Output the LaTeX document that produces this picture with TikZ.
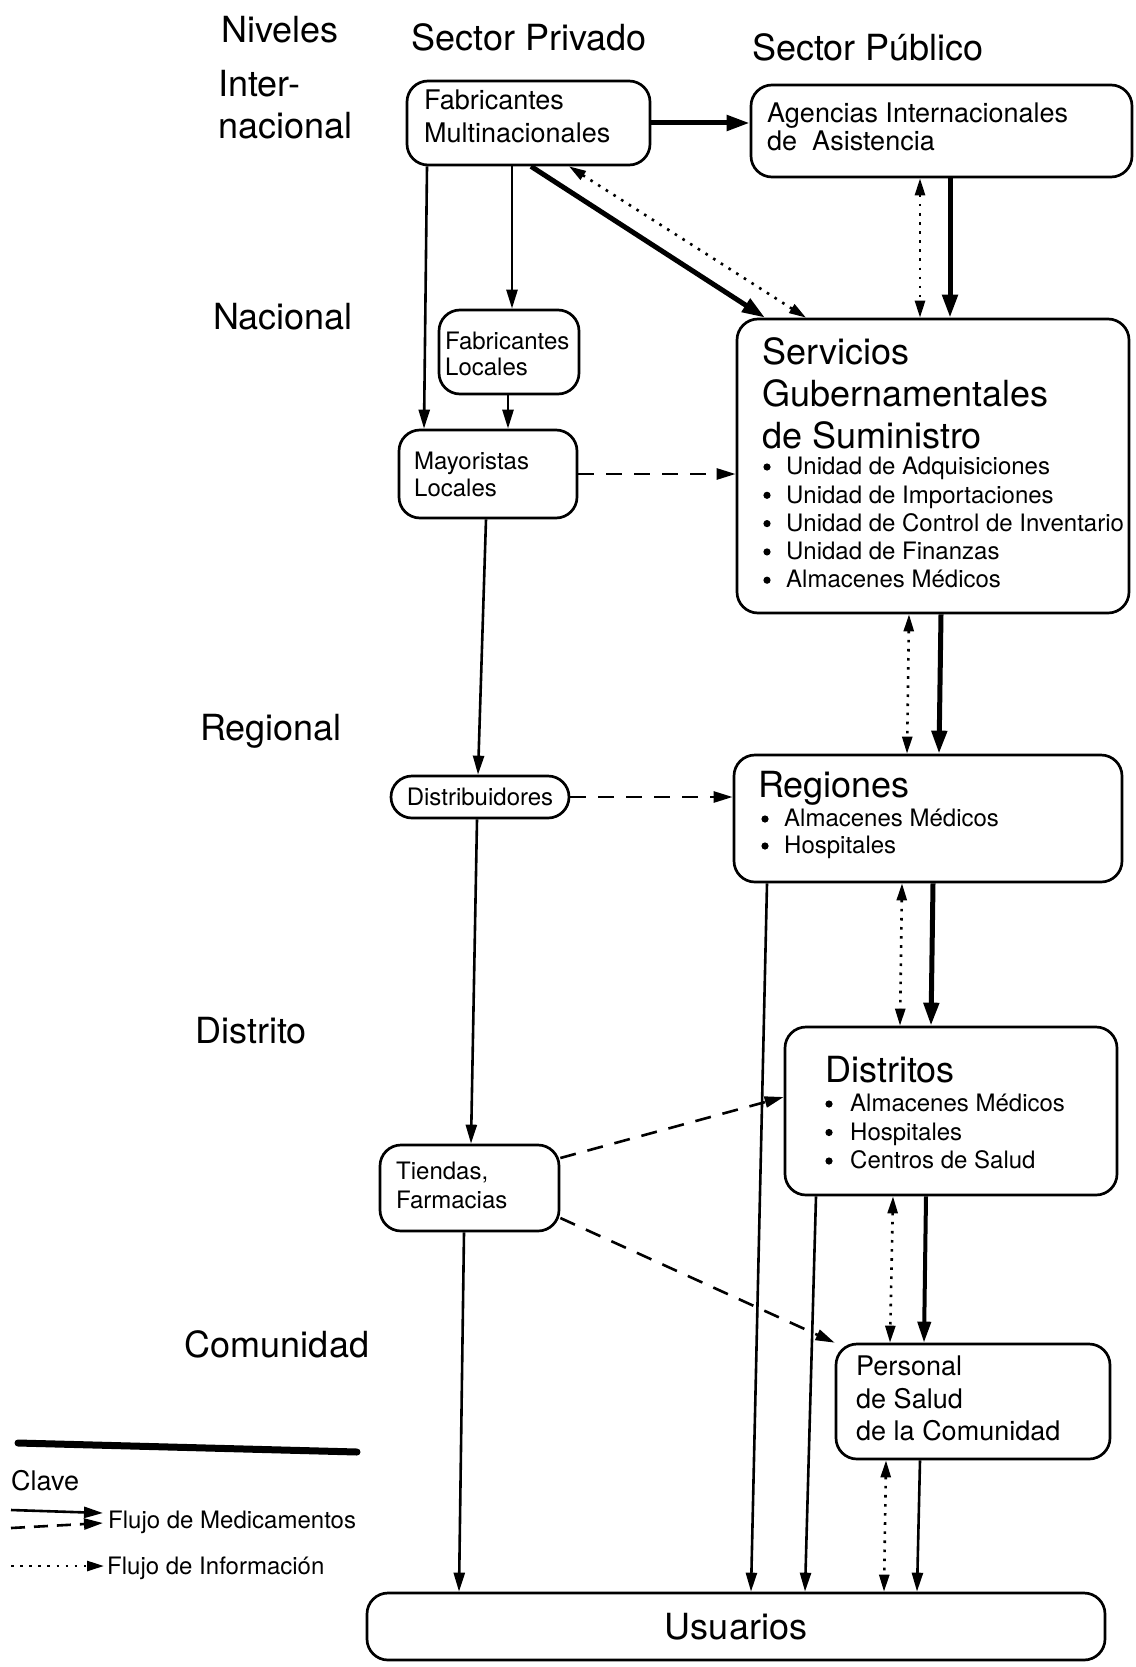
\documentclass[tikz,border=0pt]{standalone}
\usepackage{fontspec}
\setmainfont{TeX Gyre Heros}
\usetikzlibrary{arrows.meta}
\newcommand\myfs[2]{\fontsize{#1}{#2}\selectfont}
\begin{document}
\begin{tikzpicture}[x=1pt,y=-1pt,
  box/.style={draw, line width=2.7pt, rounded corners=21pt, inner sep=0pt},
  txt/.style={anchor=north west, inner sep=0pt, align=left},
  lvl/.style={inner sep=0pt, font=\myfs{36}{42}},
  dot/.style={fill=black},
  thin/.style={line width=2.6pt, -{Triangle[length=19pt,width=11pt]}},
  heavy/.style={line width=5pt, -{Triangle[length=23pt,width=15pt]}},
  medium/.style={line width=4pt, -{Triangle[length=21pt,width=13pt]}},
  dashflow/.style={line width=2.6pt, dash pattern=on 16pt off 12pt, -{Triangle[length=19pt,width=11pt]}},
  info/.style={line width=2.6pt, dash pattern=on 2.6pt off 6.5pt,
    {Triangle[length=17pt,width=10pt]}-{Triangle[length=17pt,width=10pt]}},
  infoone/.style={line width=2.6pt, dash pattern=on 2.6pt off 6.5pt, -{Triangle[length=17pt,width=10pt]}}
]
\useasboundingbox (0,0) rectangle (1135,1667);
\fill[white] (0,0) rectangle (1135,1667);

% headings
\node[lvl] (hniv) at (280,30) {Niveles};
\node[lvl] (hpriv) at (529,37) {Sector Privado};
\node[lvl] (hpub) at (868,47) {Sector Público};
\node[lvl, anchor=north west, align=left] (linter) at (218,70) {Inter-\\nacional};
\node[lvl] (lnac) at (283,317) {Nacional};
\node[lvl] (lreg) at (271,731) {Regional};
\node[lvl] (ldis) at (251,1031) {Distrito};
\node[lvl] (lcom) at (277,1344) {Comunidad};

% boxes
\node[box, minimum width=243pt, minimum height=84pt] (fm) at (528.5,123) {};
\node[box, minimum width=381pt, minimum height=92pt] (ag) at (941.5,131) {};
\node[box, minimum width=140pt, minimum height=84pt] (fl) at (509,352) {};
\node[box, minimum width=178pt, minimum height=88pt] (ml) at (488,474) {};
\node[box, minimum width=392pt, minimum height=294pt] (sv) at (933,466) {};
\node[box, minimum width=178pt, minimum height=42pt, font=\myfs{24}{28}] (di) at (480,797) {Distribuidores};
\node[box, minimum width=388pt, minimum height=127pt] (rg) at (928,818.5) {};
\node[box, minimum width=332pt, minimum height=168pt] (dt) at (951,1111) {};
\node[box, minimum width=179pt, minimum height=86pt] (tf) at (469.5,1188) {};
\node[box, minimum width=274pt, minimum height=115pt] (ps) at (973,1401.5) {};
\node[box, minimum width=738pt, minimum height=67pt, font=\myfs{36}{42}] (us) at (736,1626.5) {Usuarios};

% box texts
\node[txt, font=\myfs{27}{33}] (fmT) at (424,90) {Fabricantes\\Multinacionales};
\node[txt, font=\myfs{27}{28}] (agT) at (767,103) {Agencias Internacionales\\de\ \ Asistencia};
\node[txt, font=\myfs{24}{26}] (flT) at (445,332) {Fabricantes\\Locales};
\node[txt, font=\myfs{24}{27}] (mlT) at (414,452) {Mayoristas\\Locales};
\node[txt, font=\myfs{24}{29}] (tfT) at (396,1162) {Tiendas,\\Farmacias};
\node[txt, font=\myfs{27}{32.5}] (psT) at (856,1356) {Personal\\de Salud\\de la Comunidad};

\node[txt, font=\myfs{36}{42}] (svT) at (762,337) {Servicios\\Gubernamentales\\de Suministro};
\node[txt, font=\myfs{24}{28.3}] (svL) at (786,457) {%
Unidad de Adquisiciones\\
Unidad de Importaciones\\
Unidad de Control de Inventario\\
Unidad de Finanzas\\
Almacenes Médicos};
\foreach \yy in {467,495.3,523.6,551.9,580.2} \fill[dot] (767,\yy) circle (3.6pt);

\node[txt, font=\myfs{36}{42}] (rgT) at (758,771) {Regiones};
\node[txt, font=\myfs{24}{27}] (rgL) at (784,809) {%
Almacenes Médicos\\
Hospitales};
\foreach \yy in {819,846} \fill[dot] (765,\yy) circle (3.6pt);

\node[txt, font=\myfs{36}{42}] (dtT) at (825,1056) {Distritos};
\node[txt, font=\myfs{24}{28.5}] (dtL) at (850,1094) {%
Almacenes Médicos\\
Hospitales\\
Centros de Salud};
\foreach \yy in {1104,1132.5,1161} \fill[dot] (829,\yy) circle (3.6pt);

% connectors
\draw[heavy] (fm.east) -- (ag.west |- fm.east);
\draw[thin] (fm.south -| 512,0) -- (fl.north -| 512,0);
\draw[thin] (fm.south -| 427,0) -- (ml.north -| 424,0);
\draw[thin] (fl.south -| 508,0) -- (ml.north -| 508,0);
\draw[heavy] (fm.south -| 531,0) -- (sv.north -| 765,0);
\draw[info] (fm.south -| 569,0) -- (sv.north -| 806,0);
\draw[info] (ag.south -| 920,0) -- (sv.north -| 920,0);
\draw[heavy] (ag.south -| 950,0) -- (sv.north -| 950,0);
\draw[dashflow] (ml.east) -- (sv.west |- ml.east);
\draw[thin] (ml.south -| 486,0) -- (di.north -| 478,0);
\draw[info] (sv.south -| 909,0) -- (rg.north -| 907,0);
\draw[heavy] (sv.south -| 941,0) -- (rg.north -| 939,0);
\draw[dashflow] (di.east) -- (rg.west |- di.east);
\draw[thin] (di.south -| 477,0) -- (tf.north -| 471,0);
\draw[thin] (rg.south -| 767,0) -- (us.north -| 751,0);
\draw[info] (rg.south -| 902,0) -- (dt.north -| 900,0);
\draw[heavy] (rg.south -| 933,0) -- (dt.north -| 931,0);
\draw[dashflow] (tf.east |- 0,1158) -- (dt.west |- 0,1097);
\draw[dashflow] (tf.east |- 0,1218) -- (ps.north west);
\draw[thin] (tf.south -| 464,0) -- (us.north -| 459,0);
\draw[thin] (dt.south -| 816,0) -- (us.north -| 805,0);
\draw[info] (dt.south -| 893,0) -- (ps.north -| 890,0);
\draw[medium] (dt.south -| 926,0) -- (ps.north -| 924,0);
\draw[info] (ps.south -| 886,0) -- (us.north -| 884,0);
\draw[thin] (ps.south -| 920,0) -- (us.north -| 917,0);

% key
\coordinate (kl1) at (18,1443);
\coordinate (kl2) at (357,1452);
\draw[line width=7pt, line cap=round] (kl1) -- (kl2);
\node[anchor=west, inner sep=0pt, font=\myfs{27}{32}] (clave) at (11,1481) {Clave};
\coordinate (ks1) at (11,1510);
\coordinate (ks2) at (103,1513);
\coordinate (kd1) at (11,1528);
\coordinate (kd2) at (103,1523);
\coordinate (ki1) at (11,1566);
\coordinate (ki2) at (104,1566);
\draw[thin] (ks1) -- (ks2);
\draw[line width=2.6pt, dash pattern=on 14pt off 9pt, -{Triangle[length=19pt,width=11pt]}] (kd1) -- (kd2);
\draw[infoone] (ki1) -- (ki2);
\node[anchor=west, inner sep=0pt, font=\myfs{24}{28}] (kmed) at (108,1522) {Flujo de Medicamentos};
\node[anchor=west, inner sep=0pt, font=\myfs{24}{28}] (kinf) at (107,1568) {Flujo de Información};
\end{tikzpicture}
\end{document}
